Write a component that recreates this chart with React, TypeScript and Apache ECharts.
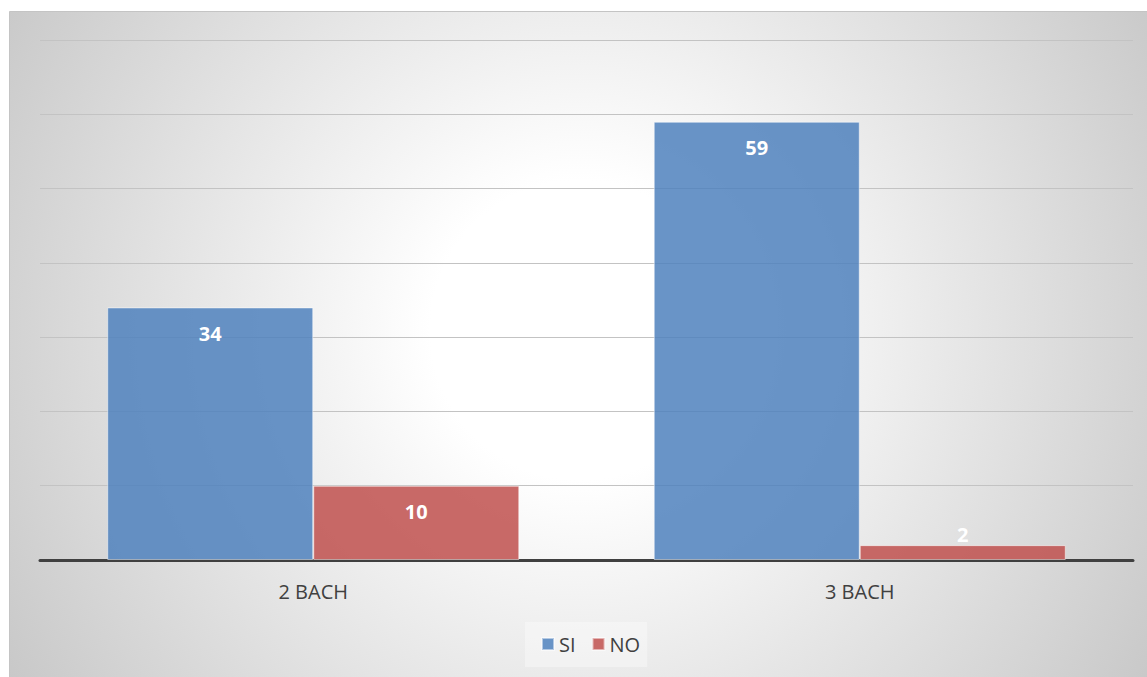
import React, { useEffect, useRef } from "react";
import * as echarts from "echarts";

const categories = ["2 BACH", "3 BACH"];
const siValues = [34, 59];
const noValues = [10, 2];
const seriesNames = ["SI", "NO"];
const yMax = 70;
const yInterval = 10;

const FONT = "'Open Sans', Lato, sans-serif";

export default function App() {
  const ref = useRef<HTMLDivElement>(null);
  useEffect(() => {
    if (!ref.current) return;
    const chart = echarts.init(ref.current, undefined, { renderer: "svg" });
    const labelBase = {
      show: true,
      color: "#ffffff",
      fontWeight: "bold" as const,
      fontSize: 20,
      lineHeight: 20,
      fontFamily: FONT,
    };
    chart.setOption({
      animation: false,
      textStyle: { fontFamily: FONT },
      graphic: [
        {
          type: "rect",
          z: -10,
          silent: true,
          shape: { x: 9.5, y: 11.5, width: 1160, height: 700 },
          style: {
            fill: new echarts.graphic.RadialGradient(580, 330, 680, [
              { offset: 0, color: "#ffffff" },
              { offset: 0.22, color: "#ffffff" },
              { offset: 1, color: "#c7c7c7" },
            ], true),
            stroke: "#c4c4c4",
            lineWidth: 1,
          },
        },
      ],
      grid: { left: 40, right: 14, top: 40, bottom: 117, containLabel: false },
      legend: {
        data: seriesNames,
        left: 525,
        top: 622,
        icon: "rect",
        itemWidth: 12,
        itemHeight: 12,
        itemGap: 16,
        padding: [12, 7, 13, 16],
        backgroundColor: "rgba(255,255,255,0.35)",
        textStyle: { color: "#404040", fontSize: 20, lineHeight: 20, fontFamily: FONT },
      },
      xAxis: {
        type: "category",
        data: categories,
        axisLine: { lineStyle: { color: "#404040", width: 3 } },
        axisTick: { show: false },
        axisLabel: { color: "#404040", fontSize: 20, lineHeight: 20, margin: 21, fontFamily: FONT },
      },
      yAxis: {
        type: "value",
        min: 0,
        max: yMax,
        interval: yInterval,
        axisLabel: { show: false },
        axisLine: { show: false },
        axisTick: { show: false },
        splitLine: { lineStyle: { color: "#c3c3c3", width: 1 } },
      },
      series: [
        {
          name: seriesNames[0],
          type: "bar",
          data: siValues,
          barGap: "0%",
          barCategoryGap: "24.6%",
          itemStyle: {
            color: "rgba(79,129,189,0.85)",
            borderColor: "rgba(255,255,255,0.5)",
            borderWidth: 1,
          },
          label: { ...labelBase, position: "insideTop", distance: 16 },
        },
        {
          name: seriesNames[1],
          type: "bar",
          data: noValues.map((v) =>
            v < 5
              ? { value: v, label: { position: "top", distance: 1 } }
              : v
          ),
          barGap: "0%",
          barCategoryGap: "24.6%",
          itemStyle: {
            color: "rgba(192,80,77,0.85)",
            borderColor: "rgba(255,255,255,0.5)",
            borderWidth: 1,
          },
          label: { ...labelBase, position: "insideTop", distance: 16 },
        },
      ],
    });
    return () => chart.dispose();
  }, []);
  return (
    <div
      ref={ref}
      style={{ position: "absolute", left: 0, top: 0, width: 1147, height: 677, background: "#ffffff" }}
    />
  );
}
